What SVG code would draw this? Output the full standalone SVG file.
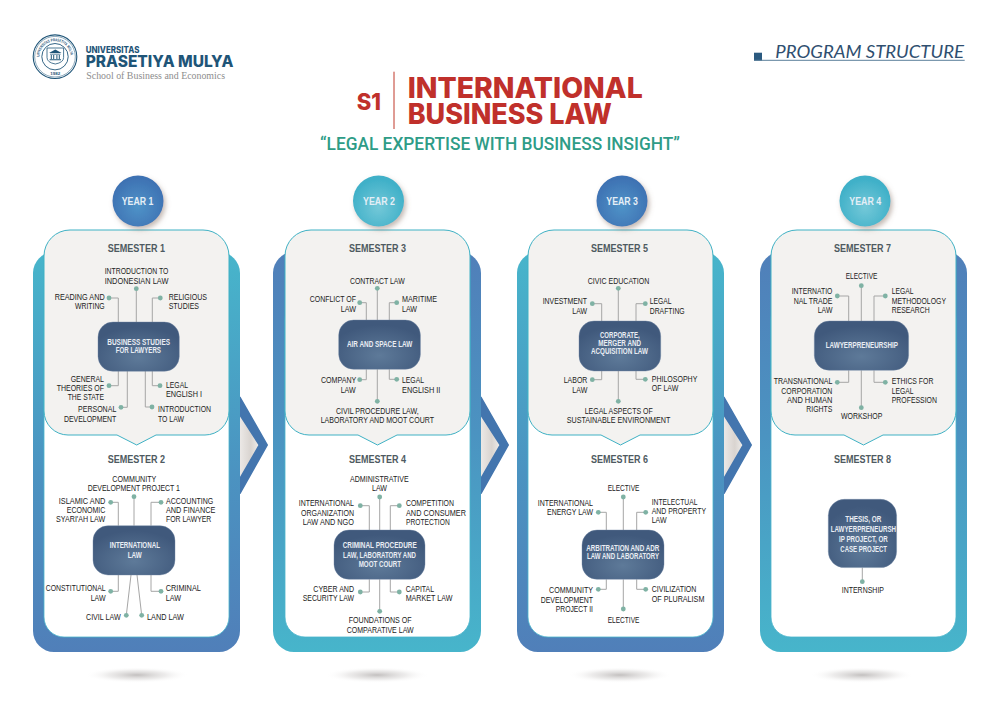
<svg xmlns="http://www.w3.org/2000/svg" xmlns:xlink="http://www.w3.org/1999/xlink" width="1000" height="707" viewBox="0 0 1000 707">
<style>
text{font-family:"Liberation Sans",Arial,sans-serif}
.l{font-size:9.500px;fill:#222}
.s{font-size:11px;font-weight:700;fill:#4e5a61}
.n{font-size:8.200px;font-weight:700;fill:#e9edf3}
.y{font-size:11px;font-weight:700;fill:#e4eef6}
.t{font-size:28px;font-weight:800;fill:#c0302b;font-family:Inter,"Liberation Sans",sans-serif}
.frame-a{fill:url(#gA)}
.frame-b{fill:url(#gB)}
.inner{fill:#fff;stroke:#49b5cb;stroke-width:.8}
.card{fill:#f3f2f0;stroke:#3fb1c4;stroke-width:1}
.box{fill:url(#gN);stroke:#6f87a3;stroke-width:.4}
.chev{fill:#4375ae;stroke:#4375ae;stroke-width:1.500;stroke-linejoin:round}
.chev-in{fill:url(#gC)}
.c{fill:none;stroke:#a6a6a6;stroke-width:1;marker-end:url(#dot)}
.cb{fill:url(#gS)}
.ya{fill:url(#gYa);filter:url(#sh)}
.yb{fill:url(#gYb);filter:url(#sh)}
.seal{fill:none;stroke:#1f5578}
.logo-b{font-family:Inter,"Liberation Sans",sans-serif;font-weight:800;fill:#1f5578}
</style>
<defs>
<linearGradient id="gA" x1="0" y1="0" x2="0" y2="1"><stop offset="0" stop-color="#47b5cb"/><stop offset=".55" stop-color="#4b93c1"/><stop offset="1" stop-color="#507fb9"/></linearGradient>
<linearGradient id="gB" x1="0" y1="0" x2="0" y2="1"><stop offset="0" stop-color="#507fb9"/><stop offset=".45" stop-color="#4b93c1"/><stop offset="1" stop-color="#47b5cb"/></linearGradient>
<linearGradient id="gC" x1="0" y1="0" x2="1" y2="0"><stop offset="0" stop-color="#efecea"/><stop offset=".6" stop-color="#d9d4d0"/><stop offset="1" stop-color="#efedeb"/></linearGradient>
<radialGradient id="gN" cx=".5" cy=".72" r=".62"><stop offset="0" stop-color="#5e7a99"/><stop offset="1" stop-color="#40597c"/></radialGradient>
<radialGradient id="gS"><stop offset="0" stop-color="#aeaaa9" stop-opacity=".75"/><stop offset=".55" stop-color="#cbc8c7" stop-opacity=".35"/><stop offset="1" stop-color="#fff" stop-opacity="0"/></radialGradient>
<radialGradient id="gYa" cx=".5" cy=".6" r=".55"><stop offset="0" stop-color="#4f93c8"/><stop offset="1" stop-color="#3e72b3"/></radialGradient>
<radialGradient id="gYb" cx=".5" cy=".62" r=".55"><stop offset="0" stop-color="#74c8d8"/><stop offset="1" stop-color="#3fb0c8"/></radialGradient>
<filter id="sh" x="-30%" y="-30%" width="170%" height="170%"><feDropShadow dx="2" dy="3" stdDeviation="2.500" flood-color="#8a7468" flood-opacity=".5"/></filter>
<marker id="dot" markerUnits="userSpaceOnUse" markerWidth="6" markerHeight="6" refX="3" refY="3"><circle cx="3" cy="3" r="2.400" fill="#7fb2a4"/></marker>
<path id="ring" d="M39.500 56.700a15.500 15.500 0 1 1 31 0"/>
</defs>

<g id="logo">
<circle class="seal" cx="55" cy="56.700" r="21.800" stroke-width="1.100"/>
<circle class="seal" cx="55" cy="56.700" r="20.300" stroke-width=".5"/>
<circle class="seal" cx="55" cy="56.700" r="13.200" stroke-width=".9"/>
<text font-size="4" font-weight="700" fill="#1f5578"><textPath xlink:href="#ring" href="#ring" textLength="47" lengthAdjust="spacingAndGlyphs">UNIVERSITAS PRASETIYA MULYA</textPath></text>
<text x="50.200" y="75.200" font-size="4.200" font-weight="700" fill="#1f5578" textLength="10" lengthAdjust="spacingAndGlyphs">1982</text>
<path class="seal" stroke-width=".8" d="M47 48h16.600v9.500q0 5-8.300 6.500q-8.300-1.500-8.300-6.500z"/>
<path fill="#1f5578" d="M49 53l6.300-3.500l6.300 3.500zM50 53.800h10.600v.7H50zM50.800 55h1v4h-1zM53.200 55h1v4h-1zM56.400 55h1v4h-1zM58.800 55h1v4h-1zM49.600 59.300h11.400v.9H49.600z"/>
<text class="logo-b" x="85.700" y="52.600" font-size="9.500" textLength="53.700" lengthAdjust="spacingAndGlyphs">UNIVERSITAS</text>
<text class="logo-b" x="85.700" y="67" font-size="15.700" textLength="147.700" lengthAdjust="spacingAndGlyphs">PRASETIYA MULYA</text>
<text x="86.300" y="79" font-size="11" fill="#8d8d8d" style="font-family:'Liberation Serif',serif" textLength="138.700" lengthAdjust="spacingAndGlyphs">School of Business and Economics</text>
</g>

<g id="program-structure">
<rect x="754" y="52.700" width="8" height="8" fill="#2b5a80"/>
<path d="M754 60.300H964.700" stroke="#5b7f9a" stroke-width="1"/>
<text x="775.300" y="57.700" font-size="18" font-style="italic" fill="#2f4f70" style="font-family:Lato,'Liberation Sans',sans-serif;font-weight:400" textLength="188.700" lengthAdjust="spacingAndGlyphs">PROGRAM STRUCTURE</text>
</g>

<g id="title">
<text class="t" x="356.700" y="110.300" style="font-size:23px" textLength="24.300" lengthAdjust="spacingAndGlyphs">S1</text>
<path d="M394 71.700V129" stroke="#c0392b" stroke-width="1"/>
<text class="t" x="407.700" y="98" textLength="235" lengthAdjust="spacingAndGlyphs">INTERNATIONAL</text>
<text class="t" x="407.700" y="123.500" textLength="204" lengthAdjust="spacingAndGlyphs">BUSINESS LAW</text>
<text x="320" y="150" font-size="18.500" fill="#2e9c87" style="font-family:Roboto,'Liberation Sans',sans-serif;font-weight:500" textLength="360" lengthAdjust="spacingAndGlyphs">“LEGAL EXPERTISE WITH BUSINESS INSIGHT”</text>
</g>

<g id="floor-shadows">
<ellipse class="cb" cx="137" cy="675" rx="52" ry="8"/>
<ellipse class="cb" cx="377" cy="675" rx="52" ry="8"/>
<ellipse class="cb" cx="620" cy="675" rx="52" ry="8"/>
<ellipse class="cb" cx="862" cy="675" rx="52" ry="8"/>
</g>

<g id="chevrons">
<polygon class="chev-in" points="238,415 240,415 259.300,445 240,478.300 238,478.300"/>
<path class="chev" d="M238 397.300L240 397.300L267.300 445L240 493.300L238 493.300V478.300H240L259.300 445L240 415H238z"/>
<polygon class="chev-in" points="479,415 481,415 500.300,445 481,478.300 479,478.300"/>
<path class="chev" d="M479 397.300L481 397.300L508.300 445L481 493.300L479 493.300V478.300H481L500.300 445L481 415H479z"/>
<polygon class="chev-in" points="722,415 724,415 743.300,445 724,478.300 722,478.300"/>
<path class="chev" d="M722 397.300L724 397.300L751.300 445L724 493.300L722 493.300V478.300H724L743.300 445L724 415H722z"/>
</g>

<g id="frames">
<rect class="frame-a" x="33" y="252" width="207" height="400" rx="21"/>
<rect class="frame-b" x="273" y="252" width="208" height="400" rx="21"/>
<rect class="frame-a" x="517" y="252" width="207" height="400" rx="21"/>
<rect class="frame-b" x="760" y="252" width="207" height="400" rx="21"/>
<rect class="inner" x="44" y="300" width="185" height="337" rx="20"/>
<rect class="inner" x="285" y="300" width="185" height="337" rx="20"/>
<rect class="inner" x="528" y="300" width="185" height="337" rx="20"/>
<rect class="inner" x="771" y="300" width="185" height="337" rx="20"/>
</g>

<g id="cards">
<path id="card-1" class="card" d="M70 230H203A26 26 0 0 1 229 256V411A24 24 0 0 1 205 435H156L136.700 445L117 435H68A24 24 0 0 1 44 411V256A26 26 0 0 1 70 230Z"/>
<path id="card-3" class="card" d="M311 230H444A26 26 0 0 1 470 256V411A24 24 0 0 1 446 435H397L377.500 445L358 435H309A24 24 0 0 1 285 411V256A26 26 0 0 1 311 230Z"/>
<path id="card-5" class="card" d="M554 230H687A26 26 0 0 1 713 256V411A24 24 0 0 1 689 435H640L620.500 445L601 435H552A24 24 0 0 1 528 411V256A26 26 0 0 1 554 230Z"/>
<path id="card-7" class="card" d="M797 230H930A26 26 0 0 1 956 256V411A24 24 0 0 1 932 435H883L863.500 445L844 435H795A24 24 0 0 1 771 411V256A26 26 0 0 1 797 230Z"/>
</g>

<g id="years">
<g id="year-1"><circle class="ya" cx="138" cy="201" r="25.500"/><text class="y" x="121.700" y="205" textLength="31.700" lengthAdjust="spacingAndGlyphs">YEAR 1</text></g>
<g id="year-2"><circle class="yb" cx="378.500" cy="201" r="25.500"/><text class="y" x="363" y="205" textLength="32" lengthAdjust="spacingAndGlyphs">YEAR 2</text></g>
<g id="year-3"><circle class="ya" cx="622" cy="201" r="25.500"/><text class="y" x="606.300" y="205" textLength="31.700" lengthAdjust="spacingAndGlyphs">YEAR 3</text></g>
<g id="year-4"><circle class="yb" cx="865" cy="201" r="25.500"/><text class="y" x="849.300" y="205" textLength="32" lengthAdjust="spacingAndGlyphs">YEAR 4</text></g>
</g>

<g id="connectors">
<polyline class="c" points="136.300,322 136.300,288.700"/>
<polyline class="c" points="118.300,322 118.300,298 109,298"/>
<polyline class="c" points="152.300,322 152.300,298 160.300,298"/>
<polyline class="c" points="118.300,371 118.300,385.700 109,385.700"/>
<polyline class="c" points="127.300,371 127.300,407.300 121,407.300"/>
<polyline class="c" points="152.300,371 152.300,385.700 160,385.700"/>
<polyline class="c" points="145.300,371 145.300,407 152,407"/>

<polyline class="c" points="134,525.700 134,496.700"/>
<polyline class="c" points="118.300,525.700 118.300,502.300 110.700,502.300"/>
<polyline class="c" points="151,525.700 151,502.300 161,502.300"/>
<polyline class="c" points="118.300,575 118.300,591.300 110.700,591.300"/>
<polyline class="c" points="151,575 151,591.300 161,591.300"/>
<polyline class="c" points="131,575 126.300,615.300"/>
<polyline class="c" points="137,575 141.700,615.300"/>

<polyline class="c" points="377.300,320 377.300,288.300"/>
<polyline class="c" points="366.300,320 366.300,302.700 359.700,302.700"/>
<polyline class="c" points="389.300,320 389.300,302.700 396.700,302.700"/>
<polyline class="c" points="366.300,369.300 366.300,379.700 359.700,379.700"/>
<polyline class="c" points="389.300,369.300 389.300,379.300 396.700,379.300"/>
<polyline class="c" points="377.300,369.300 377.300,401.300"/>

<polyline class="c" points="379.700,530 379.700,497"/>
<polyline class="c" points="369.300,530 369.300,505.700 360.300,505.700"/>
<polyline class="c" points="390.300,530 390.300,505.700 399.300,505.700"/>
<polyline class="c" points="369.300,579.300 369.300,592 360.300,592"/>
<polyline class="c" points="390.300,579.300 390.300,592 399.300,592"/>
<polyline class="c" points="379.700,579.300 379.700,611.300"/>

<polyline class="c" points="618.300,321 618.300,288.300"/>
<polyline class="c" points="601.700,321 601.700,303.700 592.300,303.700"/>
<polyline class="c" points="636,321 636,303.700 645.300,303.700"/>
<polyline class="c" points="601.700,371 601.700,379.700 592.300,379.700"/>
<polyline class="c" points="636,371 636,379.300 645.300,379.300"/>
<polyline class="c" points="618.300,371 618.300,401.300"/>

<polyline class="c" points="623.300,530 623.300,497"/>
<polyline class="c" points="606.300,530 606.300,512.300 598.300,512.300"/>
<polyline class="c" points="636.700,530 636.700,512.300 645.700,512.300"/>
<polyline class="c" points="606.300,579.300 606.300,589.300 598.300,589.300"/>
<polyline class="c" points="636.700,579.300 636.700,589.300 645.700,589.300"/>
<polyline class="c" points="623.300,579.300 623.300,609"/>

<polyline class="c" points="861.300,321 861.300,285.700"/>
<polyline class="c" points="848.700,321 848.700,296 837.300,296"/>
<polyline class="c" points="874,321 874,296 885.300,296"/>
<polyline class="c" points="848.700,370.300 848.700,382.300 837.300,382.300"/>
<polyline class="c" points="874,370.300 874,382.300 885.300,382.300"/>
<polyline class="c" points="861.300,370.300 861.300,407.700"/>

<polyline class="c" points="862.300,567.600 862.300,581.700"/>
</g>

<g id="semester-1">
<text class="s" x="107.700" y="252" textLength="57.300" lengthAdjust="spacingAndGlyphs">SEMESTER 1</text>
<rect class="box" x="98" y="322" width="81.300" height="49.300" rx="15"/>
<text class="n" x="107.300" y="344.600" textLength="62.700" lengthAdjust="spacingAndGlyphs">BUSINESS STUDIES</text>
<text class="n" x="115.700" y="353" textLength="45.300" lengthAdjust="spacingAndGlyphs">FOR LAWYERS</text>
<text class="l" x="104.700" y="274" textLength="63.700" lengthAdjust="spacingAndGlyphs">INTRODUCTION TO</text>
<text class="l" x="104.700" y="283.700" textLength="63.700" lengthAdjust="spacingAndGlyphs">INDONESIAN LAW</text>
<text class="l" x="54.700" y="300" textLength="50" lengthAdjust="spacingAndGlyphs">READING AND</text>
<text class="l" x="75" y="309.400" textLength="29.700" lengthAdjust="spacingAndGlyphs">WRITING</text>
<text class="l" x="168.700" y="300" textLength="38.300" lengthAdjust="spacingAndGlyphs">RELIGIOUS</text>
<text class="l" x="168.700" y="309.400" textLength="30.300" lengthAdjust="spacingAndGlyphs">STUDIES</text>
<text class="l" x="70.700" y="381.700" textLength="33.300" lengthAdjust="spacingAndGlyphs">GENERAL</text>
<text class="l" x="56.700" y="391" textLength="47.300" lengthAdjust="spacingAndGlyphs">THEORIES OF</text>
<text class="l" x="67.700" y="400.400" textLength="36.300" lengthAdjust="spacingAndGlyphs">THE STATE</text>
<text class="l" x="78" y="412.400" textLength="38.300" lengthAdjust="spacingAndGlyphs">PERSONAL</text>
<text class="l" x="64" y="421.700" textLength="52.300" lengthAdjust="spacingAndGlyphs">DEVELOPMENT</text>
<text class="l" x="166" y="387.700" textLength="22" lengthAdjust="spacingAndGlyphs">LEGAL</text>
<text class="l" x="166" y="397" textLength="36" lengthAdjust="spacingAndGlyphs">ENGLISH I</text>
<text class="l" x="158" y="412.400" textLength="53" lengthAdjust="spacingAndGlyphs">INTRODUCTION</text>
<text class="l" x="158" y="421.700" textLength="26" lengthAdjust="spacingAndGlyphs">TO LAW</text>
</g>

<g id="semester-2">
<text class="s" x="107.700" y="463" textLength="57.300" lengthAdjust="spacingAndGlyphs">SEMESTER 2</text>
<rect class="box" x="93" y="525.700" width="82" height="49.300" rx="15"/>
<text class="n" x="109.700" y="548.300" textLength="50.300" lengthAdjust="spacingAndGlyphs">INTERNATIONAL</text>
<text class="n" x="127.700" y="557.700" textLength="14" lengthAdjust="spacingAndGlyphs">LAW</text>
<text class="l" x="112.300" y="481.700" textLength="44" lengthAdjust="spacingAndGlyphs">COMMUNITY</text>
<text class="l" x="87.700" y="491" textLength="92.300" lengthAdjust="spacingAndGlyphs">DEVELOPMENT PROJECT 1</text>
<text class="l" x="58.700" y="503.700" textLength="46.700" lengthAdjust="spacingAndGlyphs">ISLAMIC AND</text>
<text class="l" x="66.700" y="513" textLength="38.700" lengthAdjust="spacingAndGlyphs">ECONOMIC</text>
<text class="l" x="56" y="522.400" textLength="49.300" lengthAdjust="spacingAndGlyphs">SYARI'AH LAW</text>
<text class="l" x="166" y="503.700" textLength="47.300" lengthAdjust="spacingAndGlyphs">ACCOUNTING</text>
<text class="l" x="166" y="513" textLength="49.300" lengthAdjust="spacingAndGlyphs">AND FINANCE</text>
<text class="l" x="166" y="522.400" textLength="45.300" lengthAdjust="spacingAndGlyphs">FOR LAWYER</text>
<text class="l" x="45.700" y="591" textLength="60" lengthAdjust="spacingAndGlyphs">CONSTITUTIONAL</text>
<text class="l" x="90.700" y="600.700" textLength="15" lengthAdjust="spacingAndGlyphs">LAW</text>
<text class="l" x="165.700" y="591" textLength="35.300" lengthAdjust="spacingAndGlyphs">CRIMINAL</text>
<text class="l" x="165.700" y="600.700" textLength="15.300" lengthAdjust="spacingAndGlyphs">LAW</text>
<text class="l" x="86" y="620" textLength="34.700" lengthAdjust="spacingAndGlyphs">CIVIL LAW</text>
<text class="l" x="147" y="620" textLength="37" lengthAdjust="spacingAndGlyphs">LAND LAW</text>
</g>

<g id="semester-3">
<text class="s" x="349" y="252" textLength="57" lengthAdjust="spacingAndGlyphs">SEMESTER 3</text>
<rect class="box" x="338.700" y="320" width="81.700" height="49.300" rx="15"/>
<text class="n" x="347" y="347" textLength="65.300" lengthAdjust="spacingAndGlyphs">AIR AND SPACE LAW</text>
<text class="l" x="350" y="283.700" textLength="54.700" lengthAdjust="spacingAndGlyphs">CONTRACT LAW</text>
<text class="l" x="309.700" y="302.400" textLength="46.300" lengthAdjust="spacingAndGlyphs">CONFLICT OF</text>
<text class="l" x="340.700" y="311.700" textLength="15.300" lengthAdjust="spacingAndGlyphs">LAW</text>
<text class="l" x="402" y="302.400" textLength="35" lengthAdjust="spacingAndGlyphs">MARITIME</text>
<text class="l" x="402" y="311.700" textLength="15" lengthAdjust="spacingAndGlyphs">LAW</text>
<text class="l" x="321" y="383.400" textLength="35.300" lengthAdjust="spacingAndGlyphs">COMPANY</text>
<text class="l" x="340.700" y="392.700" textLength="15" lengthAdjust="spacingAndGlyphs">LAW</text>
<text class="l" x="402" y="383.400" textLength="22" lengthAdjust="spacingAndGlyphs">LEGAL</text>
<text class="l" x="402" y="392.700" textLength="38.300" lengthAdjust="spacingAndGlyphs">ENGLISH II</text>
<text class="l" x="336" y="414" textLength="82.700" lengthAdjust="spacingAndGlyphs">CIVIL PROCEDURE LAW,</text>
<text class="l" x="320.700" y="423.400" textLength="113.300" lengthAdjust="spacingAndGlyphs">LABORATORY AND MOOT COURT</text>
</g>

<g id="semester-4">
<text class="s" x="349" y="463" textLength="57" lengthAdjust="spacingAndGlyphs">SEMESTER 4</text>
<rect class="box" x="334" y="530" width="91" height="49.300" rx="15"/>
<text class="n" x="342.700" y="548" textLength="74" lengthAdjust="spacingAndGlyphs">CRIMINAL PROCEDURE</text>
<text class="n" x="343" y="557.500" textLength="73" lengthAdjust="spacingAndGlyphs">LAW, LABORATORY AND</text>
<text class="n" x="358.700" y="566.800" textLength="42.300" lengthAdjust="spacingAndGlyphs">MOOT COURT</text>
<text class="l" x="350" y="481.700" textLength="58.700" lengthAdjust="spacingAndGlyphs">ADMINISTRATIVE</text>
<text class="l" x="372" y="491" textLength="15" lengthAdjust="spacingAndGlyphs">LAW</text>
<text class="l" x="298.700" y="506.400" textLength="55.300" lengthAdjust="spacingAndGlyphs">INTERNATIONAL</text>
<text class="l" x="301" y="515.700" textLength="53" lengthAdjust="spacingAndGlyphs">ORGANIZATION</text>
<text class="l" x="302.700" y="525" textLength="51.300" lengthAdjust="spacingAndGlyphs">LAW AND NGO</text>
<text class="l" x="406" y="506.400" textLength="48" lengthAdjust="spacingAndGlyphs">COMPETITION</text>
<text class="l" x="406" y="515.700" textLength="60" lengthAdjust="spacingAndGlyphs">AND CONSUMER</text>
<text class="l" x="406" y="525" textLength="43.700" lengthAdjust="spacingAndGlyphs">PROTECTION</text>
<text class="l" x="313.300" y="591.700" textLength="40.700" lengthAdjust="spacingAndGlyphs">CYBER AND</text>
<text class="l" x="302.700" y="601" textLength="51.300" lengthAdjust="spacingAndGlyphs">SECURITY LAW</text>
<text class="l" x="405.700" y="591.700" textLength="28.300" lengthAdjust="spacingAndGlyphs">CAPITAL</text>
<text class="l" x="405.700" y="601" textLength="46.700" lengthAdjust="spacingAndGlyphs">MARKET LAW</text>
<text class="l" x="348.700" y="623.400" textLength="63" lengthAdjust="spacingAndGlyphs">FOUNDATIONS OF</text>
<text class="l" x="346.700" y="632.700" textLength="67" lengthAdjust="spacingAndGlyphs">COMPARATIVE LAW</text>
</g>

<g id="semester-5">
<text class="s" x="591" y="252" textLength="57" lengthAdjust="spacingAndGlyphs">SEMESTER 5</text>
<rect class="box" x="579" y="321" width="81.700" height="50" rx="15"/>
<text class="n" x="600" y="338" textLength="39.700" lengthAdjust="spacingAndGlyphs">CORPORATE,</text>
<text class="n" x="598.300" y="346" textLength="42.700" lengthAdjust="spacingAndGlyphs">MERGER AND</text>
<text class="n" x="591" y="354" textLength="57" lengthAdjust="spacingAndGlyphs">ACQUISITION LAW</text>
<text class="l" x="587.700" y="283.700" textLength="61.700" lengthAdjust="spacingAndGlyphs">CIVIC EDUCATION</text>
<text class="l" x="542.700" y="304.400" textLength="44.300" lengthAdjust="spacingAndGlyphs">INVESTMENT</text>
<text class="l" x="572.300" y="313.700" textLength="14.700" lengthAdjust="spacingAndGlyphs">LAW</text>
<text class="l" x="649.700" y="304.400" textLength="21.700" lengthAdjust="spacingAndGlyphs">LEGAL</text>
<text class="l" x="649.700" y="313.700" textLength="35" lengthAdjust="spacingAndGlyphs">DRAFTING</text>
<text class="l" x="563.700" y="383.400" textLength="23.700" lengthAdjust="spacingAndGlyphs">LABOR</text>
<text class="l" x="572.300" y="392.700" textLength="15" lengthAdjust="spacingAndGlyphs">LAW</text>
<text class="l" x="651.700" y="382" textLength="45.700" lengthAdjust="spacingAndGlyphs">PHILOSOPHY</text>
<text class="l" x="651.700" y="391.400" textLength="26.700" lengthAdjust="spacingAndGlyphs">OF LAW</text>
<text class="l" x="584.700" y="414" textLength="68" lengthAdjust="spacingAndGlyphs">LEGAL ASPECTS OF</text>
<text class="l" x="566.700" y="423.400" textLength="103.700" lengthAdjust="spacingAndGlyphs">SUSTAINABLE ENVIRONMENT</text>
</g>

<g id="semester-6">
<text class="s" x="591" y="463" textLength="57" lengthAdjust="spacingAndGlyphs">SEMESTER 6</text>
<rect class="box" x="582" y="530" width="82" height="49.300" rx="15"/>
<text class="n" x="586.300" y="551" textLength="73" lengthAdjust="spacingAndGlyphs">ARBITRATION AND ADR</text>
<text class="n" x="587" y="559.400" textLength="72" lengthAdjust="spacingAndGlyphs">LAW AND LABORATORY</text>
<text class="l" x="607.700" y="491.400" textLength="31.700" lengthAdjust="spacingAndGlyphs">ELECTIVE</text>
<text class="l" x="537.700" y="506" textLength="55.300" lengthAdjust="spacingAndGlyphs">INTERNATIONAL</text>
<text class="l" x="547" y="515.400" textLength="46" lengthAdjust="spacingAndGlyphs">ENERGY LAW</text>
<text class="l" x="651.700" y="504.700" textLength="45.700" lengthAdjust="spacingAndGlyphs">INTELECTUAL</text>
<text class="l" x="651.700" y="514" textLength="54.300" lengthAdjust="spacingAndGlyphs">AND PROPERTY</text>
<text class="l" x="651.700" y="523.400" textLength="15" lengthAdjust="spacingAndGlyphs">LAW</text>
<text class="l" x="549" y="593.400" textLength="44" lengthAdjust="spacingAndGlyphs">COMMUNITY</text>
<text class="l" x="540.700" y="602.700" textLength="52.300" lengthAdjust="spacingAndGlyphs">DEVELOPMENT</text>
<text class="l" x="555.700" y="612" textLength="37.300" lengthAdjust="spacingAndGlyphs">PROJECT II</text>
<text class="l" x="651.700" y="592.400" textLength="44.700" lengthAdjust="spacingAndGlyphs">CIVILIZATION</text>
<text class="l" x="651.700" y="601.700" textLength="52.700" lengthAdjust="spacingAndGlyphs">OF PLURALISM</text>
<text class="l" x="607.700" y="622.700" textLength="31.700" lengthAdjust="spacingAndGlyphs">ELECTIVE</text>
</g>

<g id="semester-7">
<text class="s" x="834" y="252" textLength="57" lengthAdjust="spacingAndGlyphs">SEMESTER 7</text>
<rect class="box" x="814.300" y="321" width="94.300" height="49.300" rx="15"/>
<text class="n" x="825.700" y="347.700" textLength="72.300" lengthAdjust="spacingAndGlyphs">LAWYERPRENEURSHIP</text>
<text class="l" x="845.700" y="279" textLength="31.700" lengthAdjust="spacingAndGlyphs">ELECTIVE</text>
<text class="l" x="791.700" y="294.400" textLength="40.700" lengthAdjust="spacingAndGlyphs">INTERNATIO</text>
<text class="l" x="793.700" y="303.700" textLength="38.700" lengthAdjust="spacingAndGlyphs">NAL TRADE</text>
<text class="l" x="817.700" y="313" textLength="14.700" lengthAdjust="spacingAndGlyphs">LAW</text>
<text class="l" x="891.700" y="294.400" textLength="21.700" lengthAdjust="spacingAndGlyphs">LEGAL</text>
<text class="l" x="891.700" y="303.700" textLength="54.300" lengthAdjust="spacingAndGlyphs">METHODOLOGY</text>
<text class="l" x="891.700" y="313" textLength="38" lengthAdjust="spacingAndGlyphs">RESEARCH</text>
<text class="l" x="773.700" y="384.400" textLength="58.700" lengthAdjust="spacingAndGlyphs">TRANSNATIONAL</text>
<text class="l" x="781.300" y="393.700" textLength="51" lengthAdjust="spacingAndGlyphs">CORPORATION</text>
<text class="l" x="787" y="403" textLength="45.300" lengthAdjust="spacingAndGlyphs">AND HUMAN</text>
<text class="l" x="806.300" y="412.400" textLength="26" lengthAdjust="spacingAndGlyphs">RIGHTS</text>
<text class="l" x="891.700" y="384.400" textLength="41.700" lengthAdjust="spacingAndGlyphs">ETHICS FOR</text>
<text class="l" x="891.700" y="393.700" textLength="21.700" lengthAdjust="spacingAndGlyphs">LEGAL</text>
<text class="l" x="891.700" y="403" textLength="45.300" lengthAdjust="spacingAndGlyphs">PROFESSION</text>
<text class="l" x="841" y="419.400" textLength="41.300" lengthAdjust="spacingAndGlyphs">WORKSHOP</text>
</g>

<g id="semester-8">
<text class="s" x="834" y="463" textLength="57" lengthAdjust="spacingAndGlyphs">SEMESTER 8</text>
<rect class="box" x="828.300" y="499.300" width="68.300" height="68.300" rx="16"/>
<text class="n" x="845.300" y="522.300" textLength="36" lengthAdjust="spacingAndGlyphs">THESIS, OR</text>
<text class="n" x="830.700" y="532.300" textLength="65.300" lengthAdjust="spacingAndGlyphs">LAWYERPRENEURSH</text>
<text class="n" x="839" y="542.300" textLength="48.700" lengthAdjust="spacingAndGlyphs">IP PROJECT, OR</text>
<text class="n" x="840.300" y="552.300" textLength="46.700" lengthAdjust="spacingAndGlyphs">CASE PROJECT</text>
<text class="l" x="841.700" y="593.300" textLength="42.300" lengthAdjust="spacingAndGlyphs">INTERNSHIP</text>
</g>
</svg>
